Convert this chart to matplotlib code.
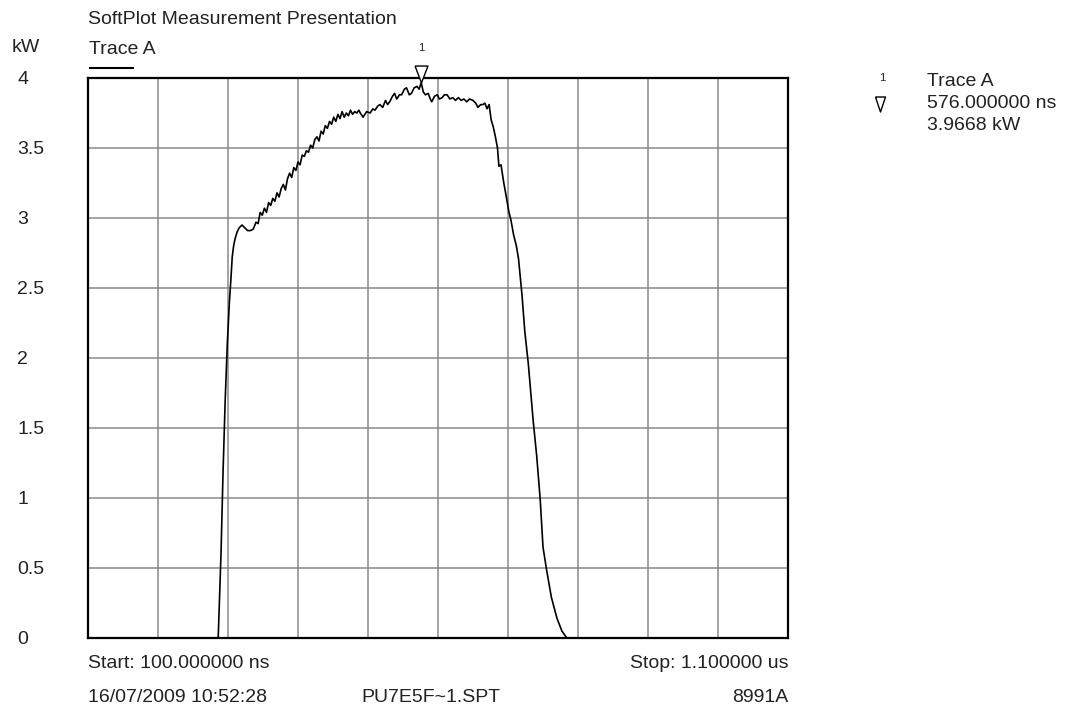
import matplotlib
matplotlib.use('Agg')
import matplotlib.pyplot as plt
from matplotlib.lines import Line2D
from matplotlib import transforms

plt.rcParams['font.family'] = ['Liberation Sans', 'DejaVu Sans']

# trace A, time in ns, power in kW
t_ns = [286, 290, 293, 296, 299, 302, 304, 306, 308, 310, 313, 316, 320, 324, 328,
        332, 336, 340, 343, 346, 349, 352, 355, 358, 361, 364, 367, 370, 373, 376,
        379, 382, 385, 388, 391, 394, 397, 400, 403, 406, 409, 412, 415, 418, 421,
        424, 427, 430, 433, 436, 439, 442, 445, 448, 451, 454, 457, 460, 463, 466,
        469, 472, 475, 478, 481, 484, 487, 489, 493, 498, 503, 507, 510, 514, 517,
        521, 525, 528, 531, 535, 538, 541, 545, 548, 552, 555, 559, 562, 566, 570,
        573, 576, 579, 582, 586, 589, 591, 595, 599, 602, 606, 609, 613, 617, 621,
        625, 629, 633, 637, 641, 645, 650, 654, 657, 661, 664, 667, 670, 673, 676,
        679, 682, 685, 687, 690, 694, 698, 701, 704, 708, 712, 715, 720, 724, 729,
        736, 741, 746, 750, 755, 762, 770, 777, 784]
p_kw = [0.0, 0.6, 1.2, 1.7, 2.1, 2.4, 2.55, 2.72, 2.8, 2.85, 2.9, 2.93, 2.95, 2.93, 2.91,
        2.91, 2.92, 2.97, 2.96, 3.04, 3.02, 3.07, 3.04, 3.11, 3.09, 3.14, 3.12, 3.18, 3.15, 3.21,
        3.24, 3.20, 3.28, 3.32, 3.29, 3.36, 3.34, 3.40, 3.38, 3.45, 3.44, 3.48, 3.47, 3.52, 3.50,
        3.56, 3.58, 3.55, 3.62, 3.60, 3.66, 3.64, 3.69, 3.67, 3.72, 3.69, 3.74, 3.71, 3.76, 3.72,
        3.75, 3.73, 3.77, 3.74, 3.76, 3.75, 3.77, 3.75, 3.72, 3.76, 3.75, 3.78, 3.77, 3.80, 3.81,
        3.79, 3.84, 3.81, 3.83, 3.87, 3.89, 3.85, 3.88, 3.88, 3.92, 3.93, 3.88, 3.89, 3.93, 3.94,
        3.92, 3.9668, 3.90, 3.88, 3.89, 3.85, 3.83, 3.87, 3.88, 3.85, 3.86, 3.88, 3.88, 3.85, 3.86,
        3.84, 3.86, 3.84, 3.85, 3.83, 3.85, 3.84, 3.82, 3.79, 3.81, 3.81, 3.82, 3.78, 3.81, 3.70,
        3.65, 3.58, 3.50, 3.37, 3.38, 3.25, 3.14, 3.05, 2.99, 2.88, 2.80, 2.71, 2.45, 2.19, 1.96,
        1.55, 1.30, 0.99, 0.65, 0.49, 0.29, 0.14, 0.05, 0.0]

marker_t = 576.0
marker_p = 3.9668
y_ticks = [0, 0.5, 1, 1.5, 2, 2.5, 3, 3.5, 4]
y_labels = ['0', '0.5', '1', '1.5', '2', '2.5', '3', '3.5', '4']
x_start, x_stop = 100, 1100

W, H = 1070, 708
fig = plt.figure(figsize=(W / 100, H / 100), dpi=100)
ax = fig.add_axes([88 / W, 1 - 638 / H, 700 / W, 560 / H])

txt = '#222222'
fs = 14

ax.plot(t_ns, p_kw, color='black', lw=1.2, zorder=3)
ax.set_xlim(x_start, x_stop)
ax.set_ylim(0, 4)
ax.set_xticks(range(x_start, x_stop + 1, 100))
ax.set_yticks(y_ticks)
ax.set_yticklabels(y_labels)
ax.tick_params(axis='x', length=0, labelbottom=False)
ax.tick_params(axis='y', length=0, pad=51, labelsize=fs, labelcolor=txt)
for lbl in ax.get_yticklabels():
    lbl.set_horizontalalignment('left')
ax.grid(True, color='#8a8a8a', lw=1.1)
for s in ax.spines.values():
    s.set_linewidth(1.6)
    s.set_color('black')

# marker triangle pointing at the peak
tri = [(-0.76, 1), (0.76, 1), (0, -1), (-0.76, 1)]
off = transforms.offset_copy(ax.transData, fig=fig, y=6.1, units='points')
ax.plot([marker_t], [marker_p], marker=tri, ms=12.2, mfc='white', mec='black',
        mew=1.0, ls='none', transform=off, clip_on=False, zorder=5)
off1 = transforms.offset_copy(ax.transData, fig=fig, y=25, units='points')
ax.text(marker_t, marker_p, '1', transform=off1, fontsize=8, color=txt,
        ha='center', va='center')


def ftext(x, y, s, **kw):
    kw.setdefault('fontsize', fs)
    kw.setdefault('color', txt)
    kw.setdefault('va', 'center')
    fig.text(x / W, 1 - y / H, s, **kw)


ftext(88, 20, 'SoftPlot Measurement Presentation')
ftext(12, 47, 'kW')
ftext(89, 49, 'Trace A')
fig.add_artist(Line2D([90 / W, 133 / W], [1 - 68 / H, 1 - 68 / H], color='black', lw=1.5))

# marker readout on the right
ftext(882, 78, '1', fontsize=8, ha='center')
ftext(927, 82, 'Trace A')
fig.add_artist(Line2D([880 / W], [1 - 104 / H], marker=[(-0.67, 1), (0.67, 1), (0, -1), (-0.67, 1)],
                      ms=10.8, mfc='white', mec='black', mew=1.0, ls='none'))
ftext(927, 104, '576.000000 ns')
ftext(927, 125, '3.9668 kW')

# footer
ftext(88, 663, 'Start: 100.000000 ns')
ftext(788, 663, 'Stop: 1.100000 us', ha='right')
ftext(88, 697, '16/07/2009 10:52:28')
ftext(361, 697, 'PU7E5F~1.SPT')
ftext(788, 697, '8991A', ha='right')

fig.savefig('out.png', dpi=100, facecolor='white')
